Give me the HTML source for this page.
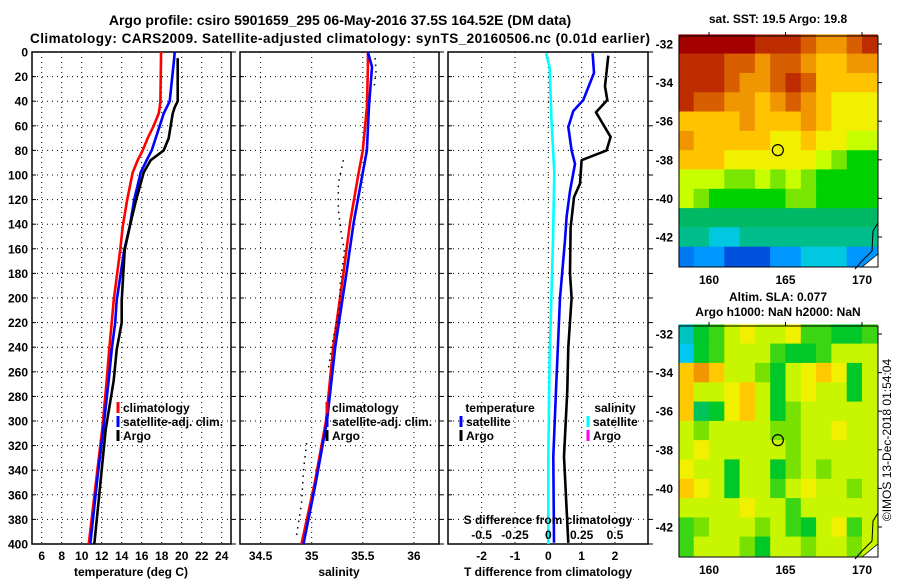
<!DOCTYPE html>
<html><head><meta charset="utf-8"><style>
html,body{margin:0;padding:0;background:#fff;}
svg{display:block;font-family:"Liberation Sans",Arial,sans-serif;font-weight:bold;}
</style></head><body>
<svg id="chart" width="900" height="580" viewBox="0 0 900 580" xmlns="http://www.w3.org/2000/svg">
<rect width="900" height="580" fill="#fff"/>
<text x="340" y="25" font-size="14" text-anchor="middle">Argo profile: csiro 5901659_295 06-May-2016 37.5S 164.52E (DM data)</text>
<text x="340" y="43" font-size="13.5" text-anchor="middle" textLength="620">Climatology: CARS2009. Satellite-adjusted climatology: synTS_20160506.nc (0.01d earlier)</text>
<g id="p1"></g>
<g id="p2"></g>
<g id="p3"></g>
<g id="m1"></g>
<g id="m2"></g>
<text x="0" y="0" font-size="12" font-weight="normal" text-anchor="middle" transform="translate(891,440) rotate(-90)">©IMOS 13-Dec-2018 01:54:04</text>
</svg>
<script>
// ---- data ----
const tDepths = [0,5,40,45,50,60,70,80,88,98,120,142,161,202,220,242,267,307,348,397,400];
const tClim = [17.93,17.93,17.87,17.8,17.7,17.2,16.6,16.1,15.6,15.1,14.55,14.1,13.85,13.2,13.0,12.75,12.5,12.05,11.45,10.75,10.7];
const tSat = [19.3,19.25,18.8,18.5,18.2,17.8,17.4,17.0,16.5,15.9,15.25,14.8,14.25,13.5,13.35,13.0,12.7,12.15,11.55,10.9,10.85];
const tArgo = [19.6,19.6,19.6,19.3,19.1,18.9,18.7,18.2,16.9,16.2,15.45,14.8,14.3,14.0,14.0,13.5,13.2,12.4,11.9,11.3,11.25];
const sDepths = [0,12,45,80,98,139,180,240,300,350,400];
const sClim = [35.55,35.55,35.54,35.50,35.46,35.375,35.31,35.21,35.14,35.03,34.90];
const sSat = [35.55,35.59,35.56,35.54,35.50,35.41,35.34,35.23,35.15,35.04,34.92];
const sArgoDepths = [5,15,30,31,88,107,128,148,161,188,210,237,259,260,318,340,367,394];
const sArgo = [35.62,35.63,35.61,null,35.31,35.26,35.26,35.29,35.32,35.28,35.27,35.2,35.16,null,34.95,34.92,34.9,34.85];
const dSatDepths = [1,17,39,48,61,80,91,113,134,153,200,275,329,399];
const dSatT = [1.33,1.37,1.05,0.75,0.6,0.7,0.8,0.65,0.55,0.5,0.35,0.23,0.15,0.17];
const dArgoDepths = [3,28,39,49,69,80,88,107,118,143,180,200,240,275,329,399];
const dArgoT = [1.8,1.7,1.77,1.43,1.87,1.75,1.0,0.95,0.77,0.67,0.65,0.7,0.6,0.57,0.47,0.6];
const dSatSDepths = [1,12,58,98,153,250,330,400];
const dSatS = [-0.017,0.01,0.025,0.045,0.035,0.01,0.0,0.0];
const depthTicks = [0,20,40,60,80,100,120,140,160,180,200,220,240,260,280,300,320,340,360,380,400];
const tTicks = [6,8,10,12,14,16,18,20,22,24];
const sTicks = [34.5,35,35.5,36];
const dTTicks = [-2,-1,0,1,2];
const dSTicks = [-0.5,-0.25,0,0.25,0.5];
const dSTickLabels = ["-0.5","-0.25","0","0.25","0.5"];
const mapLons = [158.5,159.5,160.5,161.5,162.5,163.5,164.5,165.5,166.5,167.5,168.5,169.5,170.5];
const mapLats = [-32,-33,-34,-35,-36,-37,-38,-39,-40,-41,-42,-43];
const latTicks = [-32,-34,-36,-38,-40,-42];
const lonTicks = [160,165,170];
const sstGrid = [
[22,22,22,22,22,21.5,21.5,21.5,21,20.5,20.5,21,21.5],
[21.5,21.5,21.5,21,21,20.5,21,21,20.5,20,20,20.5,20.5],
[21.5,21.5,21.5,21,20.5,20.5,21,21.5,21,20,20,20,20],
[21.5,21,21,20.5,20.5,20,20.5,21,20.5,20,19.5,19.5,19.5],
[20,20,20,20,20.5,20,20,20,20.5,20,19.5,19.5,19.5],
[20.5,20,20,20,20,20,19.5,19.5,20,19.5,19.5,19,19],
[20,20,20,19.5,19.5,19.5,19.5,19.5,19.5,19,18.5,18,18],
[19,19,19,18.5,18.5,19,18.5,19,18.5,18,18,18,18],
[19,18.5,18,18,18,18,18,18.5,18.5,18,18,18,18],
[17.5,17.5,17.5,17.5,17.5,17.5,17.5,17.5,17.5,17.5,17.5,17.5,17.5],
[17,17,16.5,16.5,17,17,17,17,17,17,17,17,17],
[15.8,16,16,15.5,15.5,15.5,16,16,16.5,16.5,16.5,16,16]];
const slaGrid = [
[-0.3,-0.15,-0.1,0,0.05,0,0,0.05,-0.1,-0.1,-0.15,-0.15,-0.1],
[-0.35,-0.15,-0.1,0,0,0,-0.1,-0.15,-0.15,-0.1,0,0,0],
[0.1,0.15,0.1,0,0,-0.05,-0.15,0,0.05,0.1,0.05,-0.15,0],
[0.1,0,0,0.05,0.1,0,-0.15,0,0.05,0,0,-0.15,0],
[0.1,-0.2,-0.15,0.05,0.1,0,-0.15,-0.05,0,0,0,0,0],
[0,-0.05,0,0,0,0,-0.05,-0.05,0,0,0.05,0,0],
[0,0.05,0,0,0,0,0,-0.05,0,0,0,0,0],
[0.05,0,0,-0.15,0,0,-0.15,-0.05,0,-0.05,0,0,0],
[0.1,0.05,0,-0.15,0,0,-0.1,0,0.05,0,0,-0.05,0],
[0,0,0,0,0.05,0,0,-0.1,0,0,0,0,0],
[-0.1,-0.05,0,0,0,-0.05,0,-0.1,-0.15,0,0.05,-0.1,0],
[-0.1,0,0,0,-0.05,-0.15,0,0,-0.05,0,0,-0.05,0]];

const NS="http://www.w3.org/2000/svg";
function mk(parent,tag,attrs,text){const e=document.createElementNS(NS,tag);for(const k in attrs)e.setAttribute(k,attrs[k]);if(text!==undefined)e.textContent=text;parent.appendChild(e);return e;}
// axis functions
const yD = d => 52 + d*1.23;
const xT = t => 81.7 + (t-10)*10;
const xS = s => 311.7 + (s-35)*102.2;
const xDT = t => 548.3 + t*33.33;
const xDS = s => 548.3 + s*133.3;

function panel(g,x0,x1,xTicks,xf,labels,showY){
  for(const d of depthTicks){
    if(d>0&&d<400){const l=mk(g,'line',{x1:x0,x2:x1,y1:yD(d),y2:yD(d),stroke:'#000','stroke-width':1,'stroke-dasharray':'1,4'});
    
    }
    const tk=mk(g,'line',{x1:x0,x2:x0+4,y1:yD(d),y2:yD(d),stroke:'#000'});
    
    
    const tk2=mk(g,'line',{x1:x1,x2:x1+5,y1:yD(d),y2:yD(d),stroke:'#000'});
    
    
    if(showY){const t=mk(g,'text',{x:28,y:yD(d)+4.5,'font-size':12,'text-anchor':'end'},String(d));
      
      }
  }
  xTicks.forEach((v,i)=>{const x=xf(v);
    const l=mk(g,'line',{x1:x,x2:x,y1:52,y2:544,stroke:'#000','stroke-width':1,'stroke-dasharray':'1,4'});
    
    
    if(labels){const t=mk(g,'text',{x:x,y:560,'font-size':12,'text-anchor':'middle'},labels[i]);
      
      }
  });
  const r=mk(g,'rect',{x:x0,y:52,width:x1-x0,height:492,fill:'none',stroke:'#000','stroke-width':1.5});
  
  
}
function line(g,depths,vals,xf,color,name,w,dash){
  const segs=[[]];
  depths.forEach((d,i)=>{if(vals[i]===null){segs.push([]);}else{segs[segs.length-1].push(xf(vals[i]).toFixed(1)+','+yD(d).toFixed(1));}});
  segs.filter(s=>s.length>1).forEach(s=>{
    const p=mk(g,'polyline',{points:s.join(' '),fill:'none',stroke:color,'stroke-width':w||2.6,'stroke-linejoin':'round'});
    if(dash)p.setAttribute('stroke-dasharray',dash);
    
    
  });
}
function legend(g,x,y,color,label){
  const m=mk(g,'line',{x1:x,x2:x,y1:y-10,y2:y+1,stroke:color,'stroke-width':3});
  
  
  const t=mk(g,'text',{x:x+5,y:y,'font-size':12},label);
  
  
}
function label(g,x,y,txt,size,name){const t=mk(g,'text',{x:x,y:y,'font-size':size||12,'text-anchor':'middle'},txt);
  
  }

// panel 1
const p1=document.getElementById('p1');
panel(p1,32,231,tTicks,xT,tTicks.map(String),true);
line(p1,tDepths,tClim,xT,'#f00','climatology-temp-line');
line(p1,tDepths,tSat,xT,'#00f','satellite-temp-line');
line(p1,tDepths.slice(1),tArgo.slice(1),xT,'#000','argo-temp-line');
legend(p1,118,412,'#f00','climatology');
legend(p1,118,426,'#00f','satellite-adj. clim.');
legend(p1,118,440,'#000','Argo');
label(p1,131,576,'temperature (deg C)',12,'temperature-axis-title');

// panel 2
const p2=document.getElementById('p2');
panel(p2,240,439,sTicks,xS,sTicks.map(String),false);
line(p2,sDepths,sClim,xS,'#f00','climatology-salinity-line');
line(p2,sDepths,sSat,xS,'#00f','satellite-salinity-line');
line(p2,sArgoDepths,sArgo,xS,'#000','argo-salinity-line',1.5,'1.5,5');
legend(p2,327,412,'#f00','climatology');
legend(p2,327,426,'#00f','satellite-adj. clim.');
legend(p2,327,440,'#000','Argo');
label(p2,339,576,'salinity',12,'salinity-axis-title');

// panel 3
const p3=document.getElementById('p3');
panel(p3,448,648,dTTicks,xDT,dTTicks.map(String),false);
line(p3,dSatSDepths,dSatS,xDS,'#0ff','satellite-salinity-diff-line');
line(p3,dSatDepths,dSatT,xDT,'#00f','satellite-temp-diff-line');
line(p3,dArgoDepths,dArgoT,xDT,'#000','argo-temp-diff-line');
label(p3,548,524,'S difference from climatology',12,'s-diff-axis-title');
dSTicks.forEach((v,i)=>{label(p3,xDS(v),539,dSTickLabels[i],12,'s-diff-tick-label');});
label(p3,548,576,'T difference from climatology',12,'t-diff-axis-title');
label(p3,500,412,'temperature',12,'temperature-legend-title');
legend(p3,461,426,'#00f','satellite');
legend(p3,461,440,'#000','Argo');
label(p3,615,412,'salinity',12,'salinity-legend-title');
legend(p3,588,426,'#0ff','satellite');
legend(p3,588,440,'#f0f','Argo');

// colormaps
function interp(stops,v){
  if(v<=stops[0][0])return stops[0][1];
  for(let i=1;i<stops.length;i++){if(v<=stops[i][0]){const a=stops[i-1],b=stops[i],f=(v-a[0])/(b[0]-a[0]);
    const ca=a[1],cb=b[1];return ca.map((c,k)=>Math.round(c+(cb[k]-c)*f));}}
  return stops[stops.length-1][1];
}
const sstStops=[[15.5,[0,80,224]],[16,[0,150,255]],[16.5,[0,200,224]],[17,[0,190,140]],[17.5,[0,185,100]],[18,[0,210,0]],[18.5,[120,230,0]],[19,[200,255,0]],[19.5,[240,240,0]],[20,[255,195,0]],[20.5,[240,150,0]],[21,[215,95,0]],[21.5,[190,45,0]],[22,[165,0,0]]];
const slaStops=[[-0.35,[0,200,240]],[-0.25,[0,190,140]],[-0.15,[0,200,40]],[-0.05,[120,225,0]],[0,[200,245,0]],[0.05,[240,240,0]],[0.1,[255,200,0]],[0.15,[240,150,0]]];

function drawMap(id,top,grid,stops,title1,title2){
  const g=document.getElementById(id);
  const xL=lon=>709+(lon-160)*15.3;
  const yL=lat=>top+8+(-32-lat)*19.3;
  const cells=mk(g,'g',{});
  
  
  mapLats.forEach((lat,r)=>mapLons.forEach((lon,c)=>{
    const col=interp(stops,grid[r][c]);
    const x=xL(lon-0.5),y=yL(lat+0.5);
    const rc=mk(cells,'rect',{x:x.toFixed(1),y:y.toFixed(1),width:15.8,height:19.8,fill:'rgb('+col.join(',')+')'});
    
    
  }));
  const coast=mk(g,'path',{d:`M878 ${top+187} L873 ${top+195} L872 ${top+215} L862 ${top+225} L855 ${top+233}`,fill:'none',stroke:'#000','stroke-width':1});
  
  
  const land=mk(g,'path',{d:`M862 ${top+231} L878 ${top+218} L878 ${top+231} Z`,fill:'#fff',stroke:'#000','stroke-width':0.8});
  
  
  const ci=mk(g,'circle',{cx:xL(164.5),cy:yL(-37.5),r:5.5,fill:'none',stroke:'#000','stroke-width':1.2});
  
  
  const fr=mk(g,'rect',{x:679,y:top,width:199,height:231,fill:'none',stroke:'#000','stroke-width':1});
  
  
  latTicks.forEach(l=>{
    const t=mk(g,'text',{x:673,y:yL(l)+4.5,'font-size':12,'text-anchor':'end'},String(l));
    
    
    const tk=mk(g,'line',{x1:878,x2:882,y1:yL(l),y2:yL(l),stroke:'#000'});
    
    
  });
  lonTicks.forEach(l=>{
    const t=mk(g,'text',{x:xL(l),y:top+248,'font-size':12,'text-anchor':'middle'},String(l));
    
    
    const tk=mk(g,'line',{x1:xL(l),x2:xL(l),y1:top-4,y2:top,stroke:'#000'});
    
    
  });
  const t1=mk(g,'text',{x:778,y:title2?top-25:top-13,'font-size':12,'text-anchor':'middle'},title1);
  
  
  if(title2){const t2=mk(g,'text',{x:778,y:top-10,'font-size':12,'text-anchor':'middle'},title2);
    
    }
}
drawMap('m1',36,sstGrid,sstStops,'sat. SST: 19.5 Argo: 19.8');
drawMap('m2',326,slaGrid,slaStops,'Altim. SLA: 0.077','Argo h1000: NaN h2000: NaN');
</script>
</body></html>
